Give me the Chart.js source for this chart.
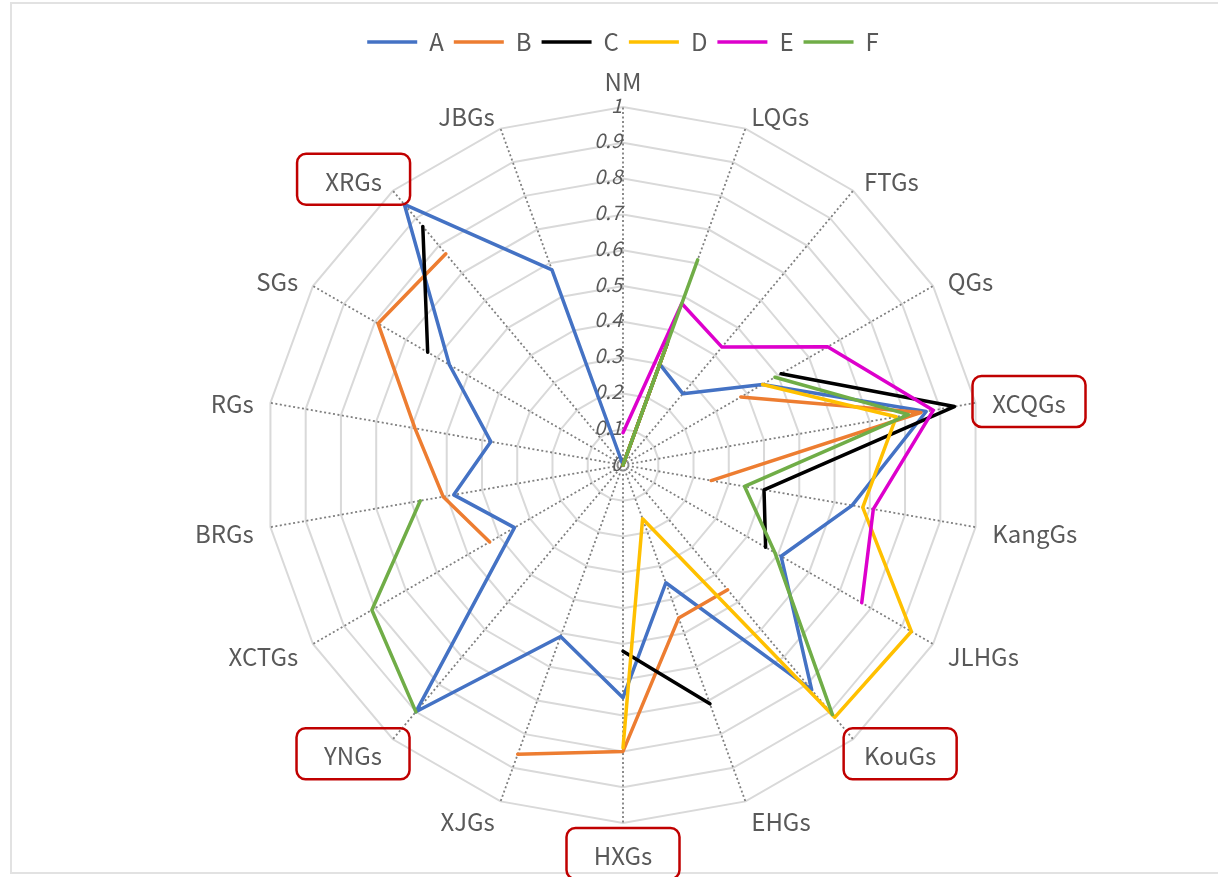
<!DOCTYPE html>
<html>
<head>
<meta charset="utf-8">
<script src="https://cdn.jsdelivr.net/npm/chart.js@4"></script>
<style>
  body { margin: 0; background: #fff; }
  #wrap { position: relative; width: 1218px; height: 877px; overflow: hidden; }
  #frame { position: absolute; left: 10px; top: 2px; width: 1220px; height: 872px; border: 2px solid #e2e2e2; box-sizing: border-box; }
  #myChart { position: absolute; left: 0; top: 0; }
</style>
</head>
<body>
<div id="wrap">
  <div id="frame"></div>
  <canvas id="myChart" width="1218" height="877"></canvas>
</div>
<script>
const ctx = document.getElementById('myChart').getContext('2d')

const labels = ['NM', 'LQGs', 'FTGs', 'QGs', 'XCQGs', 'KangGs', 'JLHGs', 'KouGs', 'EHGs',
  'HXGs', 'XJGs', 'YNGs', 'XCTGs', 'BRGs', 'RGs', 'SGs', 'XRGs', 'JBGs']

const seriesA = [0, 0.30, 0.26, 0.45, 0.86, 0.65, 0.51, 0.82, 0.35, 0.65, 0.51, 0.90, 0.35, 0.48, 0.375, 0.56, 0.95, 0.58]
const seriesB = [0, 0.37, null, 0.38, 0.845, 0.25, null, 0.455, 0.455, 0.80, 0.86, null, 0.43, 0.51, 0.59, 0.79, 0.77, null]
const seriesC = [0, 0.36, null, 0.51, 0.94, 0.40, 0.46, null, 0.71, 0.52, null, null, null, null, null, 0.63, 0.87, null]
const seriesD = [0, 0.35, null, 0.45, 0.775, 0.68, 0.93, 0.92, 0.16, 0.79, null, null, null, null, null, null, null, null]
const seriesE = [0.09, 0.48, 0.43, 0.66, 0.88, 0.71, 0.77, null, null, null, null, null, null, null, null, null, null, null]
const seriesF = [0, 0.61, null, 0.49, 0.81, 0.345, 0.49, 0.91, null, null, null, 0.90, 0.81, 0.575, null, null, null, null]

const tickValues = [0, 0.1, 0.2, 0.3, 0.4, 0.5, 0.6, 0.7, 0.8, 0.9, 1]
const tickLabels = ['0', '0.1', '0.2', '0.3', '0.4', '0.5', '0.6', '0.7', '0.8', '0.9', '1']

// labels that get a red frame
const boxed = ['XRGs', 'XCQGs', 'YNGs', 'KouGs', 'HXGs']

const FONT = "'Noto Sans CJK SC', 'Noto Sans', sans-serif"
const GREY = '#595959'

function line(label, data, color, order) {
  return {
    label: label,
    data: data,
    borderColor: color,
    backgroundColor: color,
    borderWidth: 3.5,
    borderCapStyle: 'round',
    borderJoinStyle: 'round',
    fill: false,
    tension: 0,
    pointRadius: 0,
    pointHoverRadius: 0,
    order: order
  }
}

const data = {
  labels: labels,
  datasets: [
    line('A', seriesA, '#4472C4', 6),
    line('B', seriesB, '#ED7D31', 5),
    line('C', seriesC, '#000000', 4),
    line('D', seriesD, '#FFC000', 3),
    line('E', seriesE, '#DD00CC', 2),
    line('F', seriesF, '#70AD47', 1)
  ]
}

// tick numbers, on the left of the NM axis
const tickText = {
  id: 'tickText',
  beforeDatasetsDraw(chart) {
    const r = chart.scales.r
    const c = chart.ctx
    c.save()
    c.font = 'italic 20px ' + FONT
    c.fillStyle = GREY
    c.textAlign = 'right'
    c.textBaseline = 'middle'
    tickValues.forEach((v, i) => {
      const d = r.getDistanceFromCenterForValue(v)
      c.fillText(tickLabels[i], r.xCenter - 1, r.yCenter - d - 2)
    })
    c.restore()
  }
}

// category names round the outside, placed the Excel way, plus the red frames
const outerLabels = {
  id: 'outerLabels',
  afterDraw(chart) {
    const r = chart.scales.r
    const c = chart.ctx
    c.save()
    c.font = '24px ' + FONT
    c.fillStyle = GREY
    c.textBaseline = 'middle'
    labels.forEach((name, i) => {
      const p = r.getPointPosition(i, r.drawingArea + 17)
      const a = i * 2 * Math.PI / labels.length
      const s = Math.sin(a)
      const w = c.measureText(name).width
      let x = p.x, y = p.y + 4
      if (Math.abs(s) < 0.01) {
        c.textAlign = 'center'
        y += Math.cos(a) > 0 ? -12 : 12
      } else if (s > 0) {
        c.textAlign = 'left'
        x += w / 2
      } else {
        c.textAlign = 'right'
        x -= w / 2
      }
      c.fillText(name, c.textAlign === 'center' ? x : (s > 0 ? x - w / 2 : x + w / 2), y)
      if (boxed.includes(name)) {
        c.strokeStyle = '#C00000'
        c.lineWidth = 2.5
        c.beginPath()
        c.roundRect(x - 56.5, y - 28, 113, 51, 9)
        c.stroke()
      }
    })
    c.restore()
  }
}

const options = {
  responsive: false,
  animation: false,
  events: [],
  layout: {
    padding: { top: 20, bottom: 11, left: 265, right: 237 }
  },
  plugins: {
    legend: {
      position: 'top',
      labels: {
        usePointStyle: true,
        pointStyle: 'line',
        pointStyleWidth: 50,
        padding: 10,
        color: GREY,
        font: { family: FONT, size: 24 },
        sort: (a, b) => a.datasetIndex - b.datasetIndex
      }
    },
    tooltip: { enabled: false }
  },
  scales: {
    r: {
      min: 0,
      max: 1,
      ticks: { stepSize: 0.1, display: false },
      grid: { color: '#d9d9d9', lineWidth: 2 },
      angleLines: { color: '#7f7f7f', lineWidth: 1.8, borderDash: [2, 2.5] },
      pointLabels: { display: false }
    }
  }
}

const config = {
  type: 'radar',
  data: data,
  options: options,
  plugins: [tickText, outerLabels]
}

const myChart = new Chart(ctx, config)
</script>
</body>
</html>
